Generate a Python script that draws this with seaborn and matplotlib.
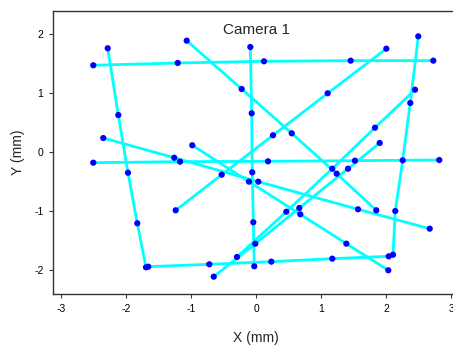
import numpy as np
import pandas as pd
import matplotlib
matplotlib.use("Agg")
import matplotlib.pyplot as plt
import seaborn as sns

# Each line: 5 points (x, y) in mm
line_A_x = [-2.508, -1.209, 0.118, 1.452, 2.723]
line_A_y = [1.475, 1.514, 1.542, 1.553, 1.553]
line_B_x = [-2.286, -2.123, -1.974, -1.831, -1.697]
line_B_y = [1.763, 0.632, -0.346, -1.203, -1.949]
line_bot_x = [-1.662, -0.723, 0.231, 1.169, 2.037]
line_bot_y = [-1.939, -1.898, -1.854, -1.803, -1.763]
line_right_x = [2.103, 2.138, 2.252, 2.369, 2.492]
line_right_y = [-1.736, -0.995, -0.136, 0.836, 1.966]
line_C_x = [-1.071, -0.225, 0.545, 1.237, 1.846]
line_C_y = [1.892, 1.073, 0.322, -0.363, -0.983]
line_D_x = [-0.092, -0.071, -0.062, -0.046, -0.031]
line_D_y = [1.785, 0.661, -0.339, -1.186, -1.932]
line_E_x = [2.000, 1.098, 0.257, -0.532, -1.240]
line_E_y = [1.756, 1.000, 0.288, -0.380, -0.983]
line_F_x = [-2.354, -1.262, 0.031, 1.565, 2.668]
line_F_y = [0.242, -0.092, -0.498, -0.966, -1.295]
line_G_x = [-0.985, -0.112, 0.677, 1.385, 2.031]
line_G_y = [0.119, -0.498, -1.051, -1.549, -2.000]
line_H_x = [-2.508, -1.174, 0.180, 1.518, 2.815]
line_H_y = [-0.176, -0.159, -0.153, -0.142, -0.131]
line_I_x = [-0.655, -0.015, 0.662, 1.411, 1.898]
line_I_y = [-2.108, -1.549, -0.944, -0.278, 0.158]
line_J_x = [-0.297, 0.462, 1.169, 1.826, 2.442]
line_J_y = [-1.775, -1.007, -0.278, 0.417, 1.061]

lines = {
    "A": (line_A_x, line_A_y), "B": (line_B_x, line_B_y),
    "bot": (line_bot_x, line_bot_y), "right": (line_right_x, line_right_y),
    "C": (line_C_x, line_C_y), "D": (line_D_x, line_D_y),
    "E": (line_E_x, line_E_y), "F": (line_F_x, line_F_y),
    "G": (line_G_x, line_G_y), "H": (line_H_x, line_H_y),
    "I": (line_I_x, line_I_y), "J": (line_J_x, line_J_y),
}

x_ticks = [-3, -2, -1, 0, 1, 2, 3]
y_ticks = [-2, -1, 0, 1, 2]

rows = []
for name, (xs, ys) in lines.items():
    for i, (xv, yv) in enumerate(zip(xs, ys)):
        rows.append({"line": name, "order": i, "x": xv, "y": yv})
df = pd.DataFrame(rows)

sns.set_style("ticks")
plt.rcParams['font.family'] = ['Liberation Sans', 'DejaVu Sans']

fig = plt.figure(figsize=(4.53, 3.45), dpi=100)
ax = fig.add_axes([53.3 / 453, (345 - 294.3) / 345, 406 / 453, (294.3 - 10.7) / 345])

sns.lineplot(data=df, x="x", y="y", units="line", estimator=None, sort=False,
             color="#00FFFF", linewidth=2.0, ax=ax, zorder=2)
sns.scatterplot(data=df, x="x", y="y", color="#0000FF", s=20, edgecolor="none",
                ax=ax, zorder=3)

ax.set_xlim(-3.123, 3.123)
ax.set_ylim(-2.407, 2.40)
ax.set_xticks(x_ticks)
ax.set_yticks(y_ticks)
ax.set_xticklabels([str(t) for t in x_ticks])
ax.set_yticklabels([str(t) for t in y_ticks])
ax.tick_params(axis="both", direction="out", length=3, width=0.8, labelsize=7.5,
               color="#333333", labelcolor="black", pad=4)
ax.tick_params(top=False, right=False)
for sp in ax.spines.values():
    sp.set_visible(True)
    sp.set_linewidth(1.0)
    sp.set_color("#333333")

ax.set_xlabel("X (mm)", fontsize=10, labelpad=12)
ax.set_ylabel("Y (mm)", fontsize=10, labelpad=6.5)
ax.text(0.5, 0.955, "Camera 1", transform=ax.transAxes, ha="center", va="top",
        fontsize=11)

fig.savefig("out.png", dpi=100)
